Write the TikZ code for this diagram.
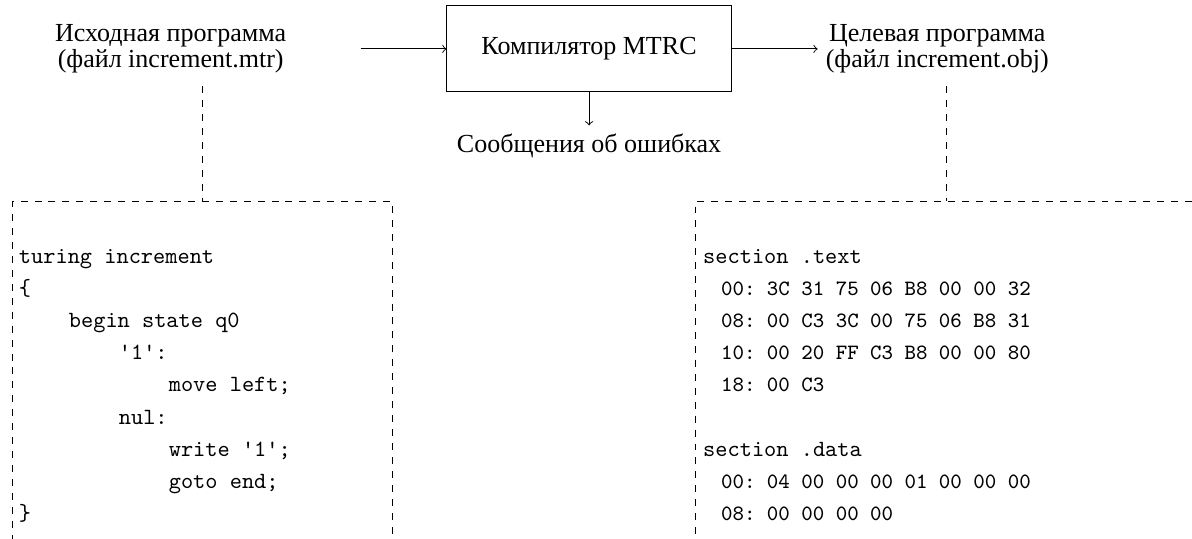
\documentclass[tikz,border=0pt]{standalone}
\usepackage{fontspec}
\setmainfont{Liberation Serif}
\usetikzlibrary{positioning}

\newcommand{\codetab}{\hspace*{2.15em}}
\newcommand{\hexline}[1]{\hspace*{7.7pt}{\fontsize{9.4}{13.86}\selectfont #1}}

\tikzset{
	filelabel/.style = {align=center},
	codeframe/.style = {draw, dashed, anchor=north west, inner sep=0pt, minimum height=5.6cm},
	codetext/.style = {align=left, anchor=north west, inner sep=0pt, font=\fontsize{10}{13.86}\selectfont\ttfamily\frenchspacing}
}

\begin{document}
\begin{tikzpicture}[font=\fontsize{11.2}{11.3}\selectfont]
	\useasboundingbox (0,0) rectangle (18.03,-8.15);
	\clip (0,0) rectangle (18.03,-8.15);
	% компилятор и его вход/выход
	\node [draw, minimum width=4.3cm, minimum height=1.3cm] (mtrc) at (8.91,-0.74) {Компилятор MTRC};
	\coordinate [left=1.3cm of mtrc.west] (in);
	\node [filelabel, left=1cm of in] (src) {Исходная программа\\(файл increment.mtr)};
	\node [filelabel, right=1.3cm of mtrc] (obj) {Целевая программа\\(файл increment.obj)};
	\node [below=0.5cm of mtrc] (errs) {Сообщения об ошибках};
	\draw [->] (in) -- (mtrc);
	\draw [->] (mtrc) -- (obj);
	\draw [->] (mtrc) -- (errs);
	% содержимое файлов
	\node [codeframe, minimum width=5.75cm] (srcfile) at (0.18,-3.04) {};
	\node [codeframe, minimum width=7.6cm] (objfile) at (10.51,-3.04) {};
	\draw [dashed, shorten <=2pt] (srcfile.north |- src.south) -- (srcfile.north);
	\draw [dashed, shorten <=2pt] (objfile.north |- obj.south) -- (objfile.north);
	\node [codetext] (srccode) at ([shift={(0.1,-0.72)}]srcfile.north west) {turing increment\\
		\{\\
		\codetab begin state q0\\
		\codetab\codetab '1':\\
		\codetab\codetab\codetab move left;\\
		\codetab\codetab nul:\\
		\codetab\codetab\codetab write '1';\\
		\codetab\codetab\codetab goto end;\\
		\}};
	\node [codetext] (objcode) at ([shift={(0.12,-0.72)}]objfile.north west) {section .text\\
		\hexline{00: 3C 31 75 06 B8 00 00 32}\\
		\hexline{08: 00 C3 3C 00 75 06 B8 31}\\
		\hexline{10: 00 20 FF C3 B8 00 00 80}\\
		\hexline{18: 00 C3}\\
		\mbox{}\\
		section .data\\
		\hexline{00: 04 00 00 00 01 00 00 00}\\
		\hexline{08: 00 00 00 00}};
\end{tikzpicture}
\end{document}
